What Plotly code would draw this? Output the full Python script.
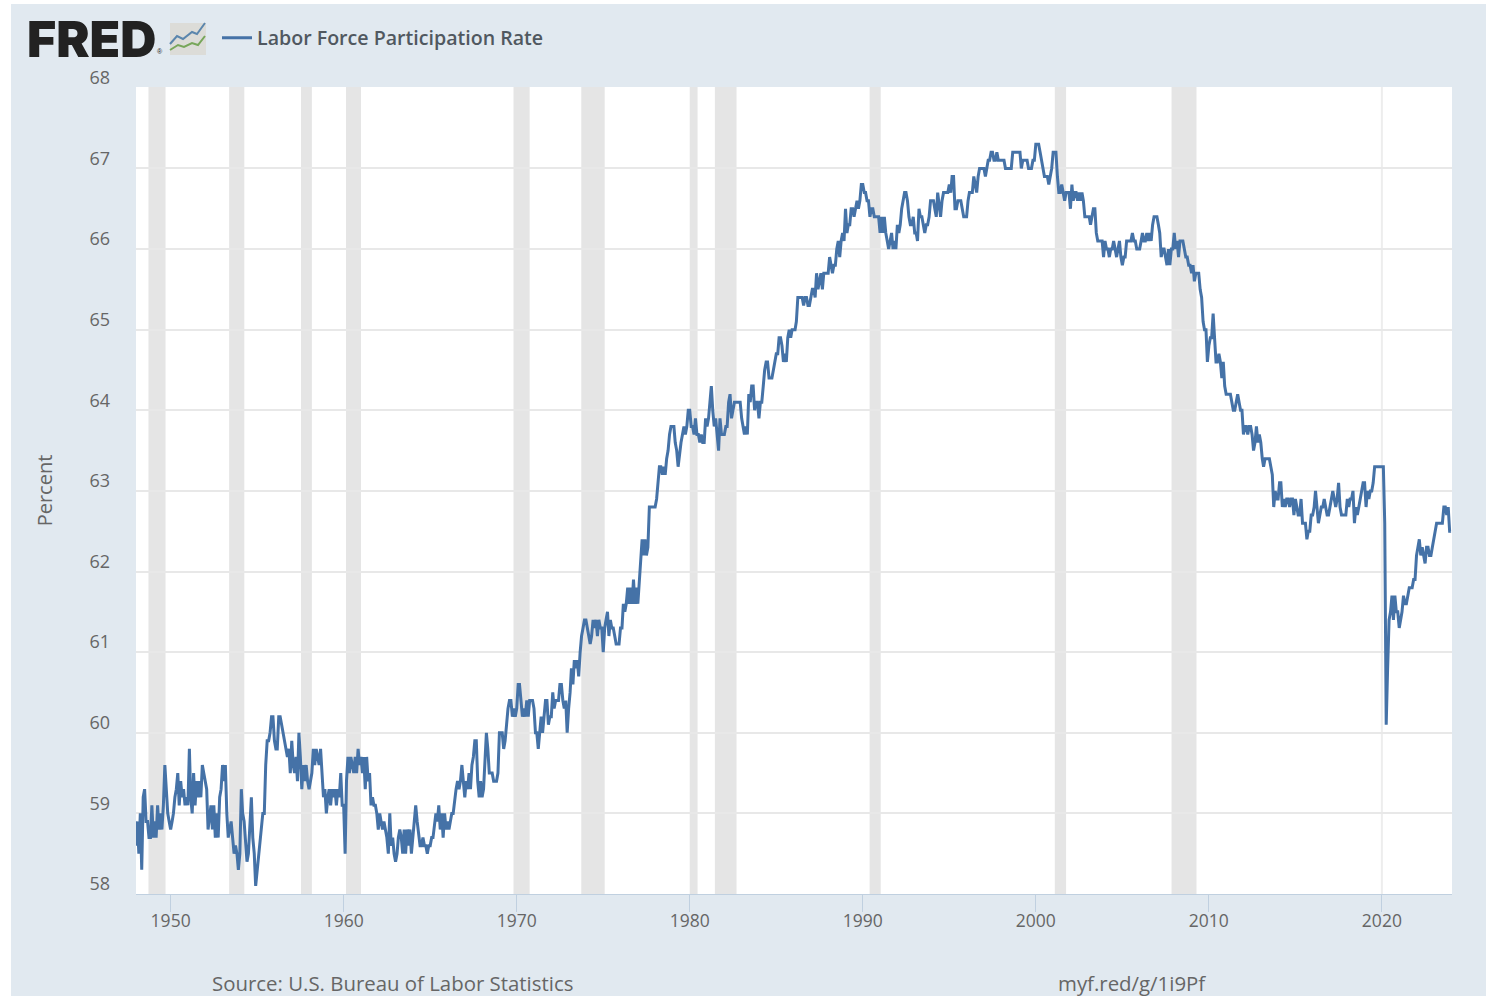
import pandas as pd
import plotly.graph_objects as go

rate_1948_1959 = [
    58.6,58.9,58.5,59.0,58.3,59.2,59.3,58.9,58.9,58.7,58.7,59.1,
    58.7,58.9,58.7,59.1,58.8,59.0,58.8,59.1,59.6,59.3,59.0,58.9,
    58.8,58.9,59.0,59.2,59.3,59.5,59.1,59.4,59.2,59.3,59.1,59.2,
    59.1,59.8,59.2,59.0,59.5,59.1,59.4,59.2,59.4,59.2,59.6,59.5,
    59.4,59.3,58.8,59.0,59.1,58.8,59.1,58.7,59.0,58.7,59.2,59.3,
    59.6,59.4,59.6,59.0,58.7,58.8,58.9,58.7,58.5,58.6,58.5,58.3,
    58.5,59.3,59.0,58.9,58.6,58.4,58.5,58.8,59.2,58.7,58.5,58.1,
    58.3,58.5,58.6,58.9,59.0,59.0,59.6,59.9,59.9,60.0,60.2,60.2,
    59.9,59.8,59.8,60.2,60.2,60.1,60.0,59.9,59.8,59.7,59.8,59.5,
    59.9,59.6,59.5,59.7,59.4,60.0,59.7,59.3,59.6,59.4,59.6,59.4,
    59.3,59.4,59.5,59.8,59.6,59.8,59.7,59.6,59.8,59.5,59.2,59.3,
    59.0,59.2,59.3,59.1,59.3,59.2,59.3,59.1,59.3,59.2,59.5,59.1,
]
rate_1960s = [
    59.1,58.5,59.4,59.7,59.5,59.7,59.6,59.5,59.7,59.5,59.8,59.6,
    59.7,59.5,59.7,59.3,59.7,59.4,59.5,59.1,59.2,59.1,59.1,59.0,
    58.8,59.0,58.9,58.8,58.9,58.8,58.7,58.5,59.0,58.6,58.7,58.5,
    58.4,58.5,58.7,58.8,58.7,58.5,58.8,58.5,58.8,58.6,58.8,58.5,
    58.7,58.9,59.1,58.9,58.7,58.6,58.6,58.7,58.6,58.6,58.5,58.6,
    58.6,58.7,58.7,58.9,59.0,58.9,59.1,58.8,59.0,58.7,59.0,58.8,
    58.9,58.8,58.9,59.0,59.0,59.2,59.3,59.4,59.3,59.4,59.6,59.4,
    59.2,59.4,59.3,59.5,59.3,59.6,59.7,59.9,59.9,59.4,59.2,59.4,
    59.2,59.3,59.7,60.0,59.8,59.5,59.5,59.5,59.4,59.4,59.4,59.5,
    60.0,60.0,60.0,59.8,59.9,60.1,60.3,60.4,60.4,60.2,60.3,60.2,
]
rate_1970s = [
    60.3,60.6,60.6,60.4,60.2,60.3,60.2,60.4,60.2,60.4,60.4,60.4,
    60.3,60.0,60.0,59.8,60.0,60.2,60.0,60.2,60.4,60.4,60.1,60.2,
    60.2,60.5,60.3,60.4,60.4,60.4,60.6,60.6,60.4,60.3,60.4,60.0,
    60.3,60.5,60.8,60.6,60.9,60.8,60.9,60.7,61.0,61.2,61.3,61.4,
    61.4,61.3,61.2,61.1,61.2,61.4,61.3,61.4,61.2,61.4,61.3,61.3,
    61.0,61.3,61.4,61.5,61.2,61.4,61.3,61.3,61.2,61.1,61.1,61.1,
    61.3,61.3,61.6,61.5,61.6,61.8,61.6,61.8,61.6,61.9,61.6,61.8,
    61.6,61.9,62.1,62.4,62.2,62.4,62.2,62.3,62.8,62.8,62.8,62.8,
    62.8,62.9,63.1,63.3,63.3,63.2,63.3,63.2,63.4,63.5,63.7,63.8,
    63.8,63.8,63.6,63.5,63.3,63.5,63.6,63.7,63.8,63.7,63.8,64.0,
]
rate_1980s = [
    64.0,63.8,63.8,63.7,63.9,63.7,63.7,63.6,63.7,63.6,63.6,63.9,
    63.8,63.9,64.1,64.3,64.0,63.8,63.9,63.7,63.5,63.9,63.7,63.7,
    63.7,63.8,63.8,64.1,64.2,63.9,64.0,64.1,64.1,64.1,64.1,64.1,
    63.9,63.8,63.7,63.8,63.7,64.2,64.1,64.3,64.3,64.0,64.1,64.1,
    63.9,64.1,64.1,64.3,64.5,64.6,64.6,64.4,64.4,64.4,64.5,64.6,
    64.7,64.7,64.9,64.9,64.8,64.6,64.7,64.6,64.9,65.0,64.9,65.0,
    65.0,65.0,65.1,65.4,65.4,65.4,65.4,65.3,65.4,65.4,65.3,65.3,
    65.4,65.5,65.5,65.4,65.7,65.5,65.6,65.7,65.5,65.7,65.7,65.7,
    65.7,65.9,65.8,65.7,65.8,65.8,66.0,66.1,65.9,66.1,66.2,66.1,
    66.5,66.2,66.3,66.3,66.5,66.5,66.4,66.5,66.6,66.5,66.6,66.8,
]
rate_1990s = [
    66.8,66.7,66.7,66.6,66.6,66.4,66.5,66.5,66.4,66.4,66.4,66.4,
    66.2,66.4,66.2,66.4,66.2,66.1,66.0,66.1,66.2,66.0,66.1,66.0,
    66.3,66.2,66.3,66.5,66.6,66.7,66.7,66.6,66.4,66.3,66.3,66.4,
    66.2,66.2,66.1,66.5,66.4,66.4,66.3,66.2,66.3,66.3,66.4,66.6,
    66.6,66.6,66.5,66.4,66.7,66.5,66.4,66.6,66.7,66.7,66.7,66.7,
    66.8,66.7,66.9,66.9,66.5,66.5,66.6,66.6,66.6,66.5,66.4,66.4,
    66.4,66.6,66.7,66.7,66.7,66.9,66.8,66.7,66.9,67.0,67.0,67.0,
    67.0,66.9,67.0,67.1,67.1,67.2,67.2,67.1,67.1,67.2,67.1,67.1,
    67.1,67.1,67.1,67.0,67.0,67.0,67.0,67.0,67.2,67.2,67.2,67.2,
    67.2,67.2,67.0,67.1,67.1,67.1,67.1,67.0,67.0,67.0,67.1,67.1,
]
rate_2000s = [
    67.3,67.3,67.3,67.2,67.1,67.0,66.9,66.9,66.9,66.8,66.9,67.0,
    67.2,67.2,67.2,66.9,66.7,66.7,66.8,66.7,66.6,66.7,66.7,66.7,
    66.5,66.8,66.6,66.7,66.7,66.6,66.7,66.6,66.7,66.6,66.4,66.4,
    66.4,66.4,66.3,66.4,66.5,66.5,66.2,66.1,66.1,66.1,66.1,65.9,
    66.1,66.0,66.0,65.9,66.0,66.0,66.1,66.0,65.9,66.0,66.1,65.9,
    65.8,65.9,65.9,66.1,66.1,66.1,66.1,66.2,66.1,66.1,66.0,66.0,
    66.0,66.1,66.2,66.1,66.1,66.2,66.1,66.2,66.1,66.3,66.4,66.4,
    66.4,66.3,66.2,65.9,66.0,66.0,65.9,65.8,66.0,65.8,66.0,66.0,
    66.2,66.0,66.1,65.9,66.1,66.1,66.1,66.0,65.9,65.9,65.8,65.8,
    65.7,65.8,65.6,65.7,65.7,65.7,65.5,65.4,65.1,65.0,65.0,64.6,
]
rate_2010s = [
    64.8,64.9,64.9,65.2,64.9,64.6,64.6,64.7,64.6,64.4,64.6,64.3,
    64.2,64.2,64.2,64.2,64.1,64.0,64.0,64.1,64.2,64.1,64.0,64.0,
    63.7,63.8,63.8,63.7,63.8,63.8,63.7,63.5,63.6,63.8,63.6,63.7,
    63.6,63.4,63.3,63.4,63.4,63.4,63.4,63.3,63.2,62.8,63.0,62.9,
    62.9,63.1,63.1,62.8,62.9,62.8,62.9,62.9,62.8,62.9,62.9,62.7,
    62.9,62.8,62.7,62.7,62.9,62.6,62.6,62.6,62.4,62.5,62.5,62.7,
    62.7,62.8,63.0,62.8,62.6,62.7,62.8,62.8,62.9,62.8,62.7,62.7,
    62.8,62.9,63.0,62.9,62.8,62.9,63.1,62.8,62.7,62.7,62.7,62.7,
    62.9,62.8,62.9,62.9,63.0,62.6,62.8,62.7,62.8,62.9,63.0,63.1,
    63.1,62.8,63.0,62.9,63.0,63.0,63.1,63.3,63.3,63.3,63.3,63.3,
]
rate_2020s = [
    63.3,63.3,62.6,60.1,60.8,61.4,61.5,61.7,61.4,61.7,61.5,61.5,
    61.3,61.4,61.5,61.7,61.6,61.6,61.7,61.8,61.8,61.8,61.9,61.9,
    62.2,62.3,62.4,62.2,62.3,62.2,62.1,62.3,62.3,62.2,62.2,62.3,
    62.4,62.5,62.6,62.6,62.6,62.6,62.6,62.8,62.8,62.7,62.8,62.5,
    62.5,
]
rate = (rate_1948_1959 + rate_1960s + rate_1970s + rate_1980s
        + rate_1990s + rate_2000s + rate_2010s + rate_2020s)
months = pd.date_range("1948-01-01", periods=len(rate), freq="MS")

recession_starts = ["1948-09-20","1953-05-20","1957-07-15","1960-02-20","1969-10-25",
                    "1973-09-25","1980-01-01","1981-06-15","1990-05-25","2001-02-05","2007-11-05"]
recession_ends = ["1949-09-15","1954-04-05","1958-03-01","1961-01-01","1970-10-01",
                  "1975-02-01","1980-06-15","1982-09-15","1991-01-15","2001-10-01","2009-04-15"]

x_tick_years = [1950,1960,1970,1980,1990,2000,2010,2020]
y_ticks = [58,59,60,61,62,63,64,65,66,67,68]

W, H = 1496, 996
L, R, T, B = 136, 44, 87, 102
PANEL = "#e1e9f0"
LINE = "#4572a7"
GREY = "#666666"
FONT = "Open Sans"

fig = go.Figure()
fig.add_trace(go.Scatter(
    x=months, y=rate, mode="lines", name="Labor Force Participation Rate",
    line=dict(color=LINE, width=3), showlegend=True, hoverinfo="x+y"))

def px(x):
    return (x - L) / (W - L - R)
def py(y):
    return (H - B - y) / (H - T - B)

shapes = []
for s, e in zip(recession_starts, recession_ends):
    shapes.append(dict(type="rect", xref="x", yref="paper", x0=s, x1=e, y0=0, y1=1,
                       fillcolor="#e5e5e5", line_width=0, layer="below"))
shapes.append(dict(type="line", xref="x", yref="paper", x0="2020-01-01", x1="2020-01-01",
                   y0=0, y1=1, line=dict(color="#ededed", width=2), layer="below"))
# white frame outside the panel
for x0, x1, y0, y1 in [(0, 11, 0, H), (1486, W, 0, H), (0, W, 0, 4)]:
    shapes.append(dict(type="rect", xref="paper", yref="paper", x0=px(x0), x1=px(x1),
                       y0=py(y1), y1=py(y0), fillcolor="#ffffff", line_width=0, layer="above"))
# FRED logo icon
shapes.append(dict(type="rect", xref="paper", yref="paper", x0=px(170), x1=px(206),
                   y0=py(55), y1=py(23), fillcolor="#dcdcd8", line_width=0, layer="above"))
def icon_path(points):
    return "M " + " L ".join(f"{px(a):.5f} {py(b):.5f}" for a, b in points)
shapes.append(dict(type="path", xref="paper", yref="paper",
                   path=icon_path([(170,44),(177,36),(183,39),(192,32),(197,34),(205,23)]),
                   line=dict(color="#5b86ad", width=2), layer="above"))
shapes.append(dict(type="path", xref="paper", yref="paper",
                   path=icon_path([(170,50),(178,45),(184,47),(192,43),(198,45),(205,36)]),
                   line=dict(color="#77a65a", width=2), layer="above"))

annotations = [
    dict(text="FRED", xref="paper", yref="paper", x=px(25), y=py(39), xanchor="left",
         yanchor="middle", showarrow=False, height=36,
         font=dict(family="Inter", size=50, weight=900, color="#222222")),
    dict(text="®", xref="paper", yref="paper", x=px(160), y=py(52), xanchor="center",
         yanchor="middle", showarrow=False,
         font=dict(family="Liberation Sans", size=7, color="#222222")),
    dict(text="Source: U.S. Bureau of Labor Statistics", xref="paper", yref="paper", x=px(210), y=py(983),
         xanchor="left", yanchor="middle", showarrow=False, font=dict(family=FONT, size=20.4, color=GREY)),
    dict(text="myf.red/g/1i9Pf", xref="paper", yref="paper", x=px(1208), y=py(983),
         xanchor="right", yanchor="middle", showarrow=False, font=dict(family=FONT, size=20.4, color=GREY)),
]

fig.update_layout(
    width=W, height=H, margin=dict(l=L, r=R, t=T, b=B, pad=0, autoexpand=False),
    paper_bgcolor=PANEL, plot_bgcolor="#ffffff",
    font=dict(family=FONT, color=GREY),
    shapes=shapes, annotations=annotations,
    legend=dict(x=px(217), y=py(38), xanchor="left", yanchor="middle", bgcolor="rgba(0,0,0,0)",
                borderwidth=0, font=dict(family=FONT, size=19.6, weight=600, color="#505860"), itemwidth=30),
    xaxis=dict(type="date", range=["1948-01-01", "2024-01-20"],
               tickmode="array", tickvals=[f"{y}-01-01" for y in x_tick_years],
               ticktext=[str(y) for y in x_tick_years],
               showgrid=False, zeroline=False, showline=True, linecolor="#c0d0e0", linewidth=1,
               ticks="outside", ticklen=17, tickcolor="#c0d0e0", tickwidth=1, ticklabelstandoff=-6,
               tickfont=dict(family=FONT, size=17.5, color=GREY)),
    yaxis=dict(range=[58, 68.01], tickmode="array", tickvals=y_ticks, ticktext=[str(v) for v in y_ticks],
               showgrid=True, gridcolor="#e8e8e8", gridwidth=1.5, zeroline=False, showline=False, ticks="",
               ticklabelstandoff=25, ticklabelshift=-10,
               tickfont=dict(family=FONT, size=18, color=GREY),
               title=dict(text="Percent", standoff=31, font=dict(family=FONT, size=20, color=GREY))),
)

fig.write_html("out.html", config=dict(displayModeBar=False),
               post_script="document.body.style.margin='0';")
